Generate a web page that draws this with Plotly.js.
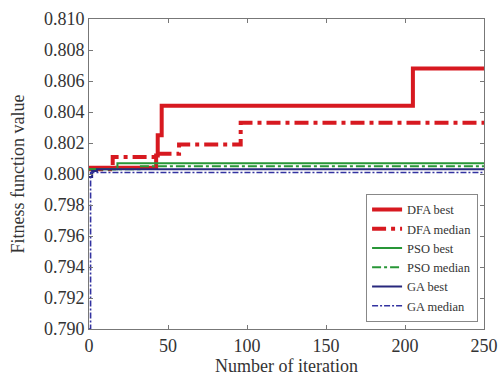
<!DOCTYPE html>
<html>
<head>
<meta charset="utf-8">
<script src="https://cdn.plot.ly/plotly-3.0.1.min.js"></script>
<style>html,body{margin:0;padding:0;background:#fff}#chart{width:499px;height:376px}</style>
</head>
<body>
<div id="chart"></div>
<script>
// Series names
const seriesNames = ["DFA best", "DFA median", "PSO best", "PSO median", "GA best", "GA median"];
// Step breakpoints (iteration) and fitness values
const dfaBestX = [0, 42.5, 43.5, 46, 205, 250];
const dfaBestY = [0.8004, 0.8012, 0.8025, 0.8044, 0.8068, 0.8068];
const dfaMedianX = [0, 15, 43, 57, 96, 250];
const dfaMedianY = [0.8003, 0.8011, 0.8013, 0.8019, 0.8033, 0.8033];
const psoBestX = [0, 18, 250];
const psoBestY = [0.8003, 0.8007, 0.8007];
const psoMedianX = [0, 32, 250];
const psoMedianY = [0.8003, 0.8005, 0.8005];
const gaBestX = [0, 2, 5, 250];
const gaBestY = [0.7998, 0.8002, 0.8003, 0.8003];
const gaMedianX = [0, 1, 250];
const gaMedianY = [0.7900, 0.8001, 0.8001];
// Axis ticks
const xTicks = [0, 50, 100, 150, 200, 250];
const yTicks = [0.790, 0.792, 0.794, 0.796, 0.798, 0.800, 0.802, 0.804, 0.806, 0.808, 0.810];

const red = "rgb(215,25,32)", green = "rgb(40,150,55)", navy = "rgb(40,40,125)", blue2 = "rgb(50,50,160)";
const xs = [dfaBestX, dfaMedianX, psoBestX, psoMedianX, gaBestX, gaMedianX];
const ys = [dfaBestY, dfaMedianY, psoBestY, psoMedianY, gaBestY, gaMedianY];
const styles = [
  {color: red, width: 4, dash: "solid"},
  {color: red, width: 4, dash: "14px,5px,4px,5px"},
  {color: green, width: 2, dash: "solid"},
  {color: green, width: 2, dash: "dashdot"},
  {color: navy, width: 2, dash: "solid"},
  {color: blue2, width: 1.6, dash: "6px,2px,2px,2px"}
];
const traces = seriesNames.map((n, i) => ({
  type: "scatter", mode: "lines", name: n, x: xs[i], y: ys[i],
  line: Object.assign({shape: "hv"}, styles[i])
}));

const serif = "Liberation Serif, Times New Roman, serif";
const axisCommon = {
  showgrid: false, zeroline: false, showline: true, mirror: "ticks",
  linecolor: "#777", linewidth: 1, ticks: "inside", ticklen: 4, tickcolor: "#777",
  tickfont: {family: serif, size: 18, color: "#333"}
};
const layout = {
  width: 499, height: 376,
  margin: {l: 89, r: 15, t: 19, b: 47},
  paper_bgcolor: "#fff", plot_bgcolor: "#fff",
  showlegend: true,
  xaxis: Object.assign({}, axisCommon, {
    range: [0, 250], tickvals: xTicks, ticktext: xTicks.map(String),
    title: {text: "Number of iteration", standoff: 3,
      font: {family: serif, size: 18, color: "#333"}}
  }),
  yaxis: Object.assign({}, axisCommon, {
    range: [0.790, 0.810], tickvals: yTicks, ticktext: yTicks.map(v => v.toFixed(3)),
    title: {text: "Fitness function value", standoff: 14,
      font: {family: serif, size: 18, color: "#333"}}
  }),
  legend: {
    x: 0.985, y: 0.023, xanchor: "right", yanchor: "bottom",
    bgcolor: "#fff", bordercolor: "#888", borderwidth: 1,
    font: {family: serif, size: 12.5, color: "#333"},
    tracegroupgap: 0
  }
};
Plotly.newPlot("chart", traces, layout, {displayModeBar: false, staticPlot: true});
</script>
</body>
</html>
